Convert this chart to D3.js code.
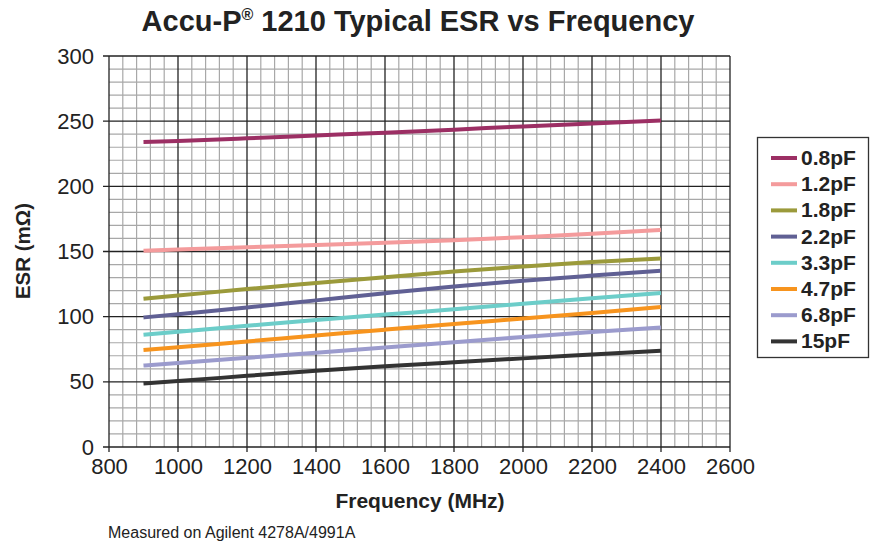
<!DOCTYPE html>
<html><head><meta charset="utf-8">
<script src="https://cdn.jsdelivr.net/npm/d3@7"></script>
<style>
body{margin:0;background:#fff;}
svg{font-family:"Liberation Sans",Arial,Helvetica,sans-serif;}
</style></head>
<body><svg id="c" width="870" height="542"></svg>
<script>
const freqs = [900, 1000, 1200, 1400, 1600, 1800, 2000, 2200, 2400];
const seriesNames = ["0.8pF","1.2pF","1.8pF","2.2pF","3.3pF","4.7pF","6.8pF","15pF"];
const esr08 = [234, 234.8, 236.8, 239, 241.2, 243.5, 246, 248.2, 250.5];
const esr12 = [150.5, 151.5, 153.2, 154.9, 156.7, 158.7, 161, 163.7, 166.6];
const esr18 = [113.7, 116.2, 121.2, 125.8, 130.3, 134.6, 138.5, 142, 144.6];
const esr22 = [99.4, 101.8, 107, 112.5, 118, 123.2, 127.6, 131.5, 135.2];
const esr33 = [86.1, 88.4, 93, 97.5, 101.6, 105.6, 109.9, 114.1, 118.1];
const esr47 = [74.5, 76.5, 81, 85.5, 90, 94.4, 98.6, 102.9, 107.4];
const esr68 = [62.5, 64.4, 68.4, 72.4, 76.4, 80.4, 84.4, 88.2, 91.7];
const esr15 = [48.8, 50.6, 54.6, 58.5, 61.9, 65, 68, 70.9, 73.8];
const seriesValues = [esr08, esr12, esr18, esr22, esr33, esr47, esr68, esr15];
const colors = ["#9c2f64","#f49b9c","#9b9a3b","#606094","#6ccdc9","#f7941e","#9b9bcd","#333333"];
const xTicks = [800,1000,1200,1400,1600,1800,2000,2200,2400,2600];
const yTicks = [0,50,100,150,200,250,300];

const svg = d3.select("#c");
const L=109, R=730, T=56, B=447;
const x = d3.scaleLinear().domain([800,2600]).range([L,R]);
const y = d3.scaleLinear().domain([0,300]).range([B,T]);

// minor grid
const g = svg.append("g");
d3.range(800,2601,40).filter(v=>v%200!==0).forEach(v=>{
  g.append("line").attr("x1",x(v)).attr("x2",x(v)).attr("y1",T).attr("y2",B)
   .attr("stroke","#a8a8a8").attr("stroke-width",1.2);
});
d3.range(0,301,10).filter(v=>v%50!==0).forEach(v=>{
  g.append("line").attr("x1",L).attr("x2",R).attr("y1",y(v)).attr("y2",y(v))
   .attr("stroke","#a8a8a8").attr("stroke-width",1.2);
});
// major grid
xTicks.forEach(v=>{
  g.append("line").attr("x1",x(v)).attr("x2",x(v)).attr("y1",T).attr("y2",B+5)
   .attr("stroke","#222").attr("stroke-width",1.3);
});
yTicks.forEach(v=>{
  g.append("line").attr("x1",L-6).attr("x2",R).attr("y1",y(v)).attr("y2",y(v))
   .attr("stroke","#222").attr("stroke-width",1.3);
});

const xa = svg.append("g").attr("transform",`translate(0,${B})`)
  .call(d3.axisBottom(x).tickValues(xTicks).tickSize(0).tickPadding(11).tickFormat(d3.format("d")));
xa.select(".domain").remove();
xa.selectAll("text").attr("font-size",22).attr("fill","#222").attr("font-family","Liberation Sans, Arial, sans-serif");
const ya = svg.append("g").attr("transform",`translate(${L},0)`)
  .call(d3.axisLeft(y).tickValues(yTicks).tickSize(0).tickPadding(15).tickFormat(d3.format("d")));
ya.select(".domain").remove();
ya.selectAll("text").attr("font-size",22).attr("fill","#222").attr("font-family","Liberation Sans, Arial, sans-serif");

const line = d3.line().x((d,i)=>x(freqs[i])).y(d=>y(d)).curve(d3.curveMonotoneX);
seriesValues.forEach((vals,k)=>{
  svg.append("path").datum(vals).attr("d",line).attr("fill","none")
    .attr("stroke",colors[k]).attr("stroke-width",4);
});

const t = svg.append("text").attr("x",418).attr("y",31).attr("text-anchor","middle")
  .attr("font-size",29).attr("font-weight","bold").attr("fill","#222");
t.append("tspan").text("Accu-P");
t.append("tspan").text("®").attr("font-size",16).attr("dy",-11);
t.append("tspan").text(" 1210 Typical ESR vs Frequency").attr("dy",11);

svg.append("text").attr("x",420).attr("y",508).attr("text-anchor","middle")
  .attr("font-size",21).attr("font-weight","bold").attr("fill","#222").text("Frequency (MHz)");
svg.append("text").attr("transform","translate(30,251) rotate(-90)").attr("text-anchor","middle")
  .attr("font-size",20.5).attr("font-weight","bold").attr("fill","#222").text("ESR (mΩ)");
svg.append("text").attr("x",108).attr("y",538).attr("font-size",16).attr("fill","#222")
  .text("Measured on Agilent 4278A/4991A");

svg.append("rect").attr("x",757.5).attr("y",137.5).attr("width",111).attr("height",220)
  .attr("fill","#fff").attr("stroke","#333").attr("stroke-width",1.3);
seriesNames.forEach((n,k)=>{
  const yy = 158 + k*26.2;
  svg.append("line").attr("x1",771).attr("x2",797).attr("y1",yy).attr("y2",yy)
    .attr("stroke",colors[k]).attr("stroke-width",4);
  svg.append("text").attr("x",801).attr("y",yy+7).attr("font-size",21).attr("font-weight","bold")
    .attr("fill","#222").text(n);
});
</script></body></html>
